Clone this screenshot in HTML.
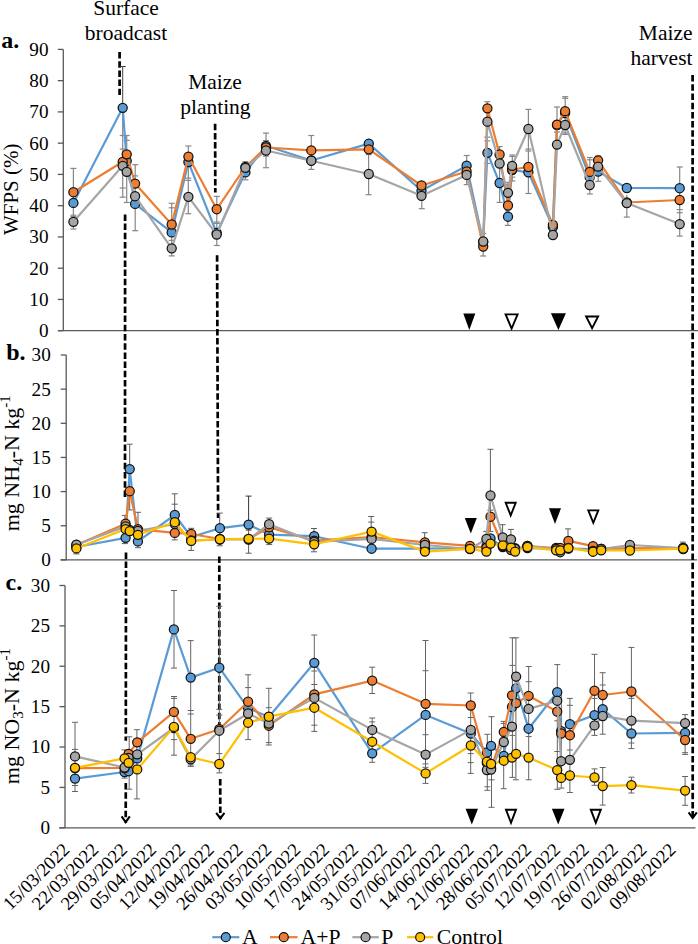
<!DOCTYPE html><html><head><meta charset="utf-8"><style>html,body{margin:0;padding:0;background:#fff;width:698px;height:944px;overflow:hidden}svg{display:block}</style></head><body><svg width="698" height="944" viewBox="0 0 698 944" font-family='"Liberation Serif", serif' fill="#000">
<rect width="698" height="944" fill="#fff"/>
<g font-size="21.5">
<text x="126" y="15.1" text-anchor="middle">Surface</text>
<text x="126" y="40.3" text-anchor="middle">broadcast</text>
<text x="215" y="88.8" text-anchor="middle">Maize</text>
<text x="215.4" y="114.1" text-anchor="middle">planting</text>
<text x="692.5" y="39.6" text-anchor="end">Maize</text>
<text x="692.5" y="64.9" text-anchor="end">harvest</text>
</g>
<g font-size="24" font-weight="bold">
<text x="1.3" y="48.2">a.</text>
<text x="6.2" y="359.8">b.</text>
<text x="5.6" y="589.6">c.</text>
</g>
<line x1="63.3" y1="49.4" x2="63.3" y2="330.7" stroke="#595959" stroke-width="1.3"/><line x1="57.8" y1="49.40" x2="63.3" y2="49.40" stroke="#595959" stroke-width="1.3"/><text x="48.5" y="55.80" text-anchor="end" font-size="19.2">90</text><line x1="57.8" y1="80.66" x2="63.3" y2="80.66" stroke="#595959" stroke-width="1.3"/><text x="48.5" y="87.06" text-anchor="end" font-size="19.2">80</text><line x1="57.8" y1="111.91" x2="63.3" y2="111.91" stroke="#595959" stroke-width="1.3"/><text x="48.5" y="118.31" text-anchor="end" font-size="19.2">70</text><line x1="57.8" y1="143.17" x2="63.3" y2="143.17" stroke="#595959" stroke-width="1.3"/><text x="48.5" y="149.57" text-anchor="end" font-size="19.2">60</text><line x1="57.8" y1="174.42" x2="63.3" y2="174.42" stroke="#595959" stroke-width="1.3"/><text x="48.5" y="180.82" text-anchor="end" font-size="19.2">50</text><line x1="57.8" y1="205.68" x2="63.3" y2="205.68" stroke="#595959" stroke-width="1.3"/><text x="48.5" y="212.08" text-anchor="end" font-size="19.2">40</text><line x1="57.8" y1="236.93" x2="63.3" y2="236.93" stroke="#595959" stroke-width="1.3"/><text x="48.5" y="243.33" text-anchor="end" font-size="19.2">30</text><line x1="57.8" y1="268.19" x2="63.3" y2="268.19" stroke="#595959" stroke-width="1.3"/><text x="48.5" y="274.59" text-anchor="end" font-size="19.2">20</text><line x1="57.8" y1="299.44" x2="63.3" y2="299.44" stroke="#595959" stroke-width="1.3"/><text x="48.5" y="305.84" text-anchor="end" font-size="19.2">10</text><line x1="57.8" y1="330.70" x2="63.3" y2="330.70" stroke="#595959" stroke-width="1.3"/><text x="48.5" y="337.10" text-anchor="end" font-size="19.2">0</text>
<line x1="58" y1="330.7" x2="698" y2="330.7" stroke="#595959" stroke-width="1.3"/>
<line x1="66.2" y1="355.0" x2="66.2" y2="559.9" stroke="#595959" stroke-width="1.3"/><line x1="60.7" y1="355.00" x2="66.2" y2="355.00" stroke="#595959" stroke-width="1.3"/><text x="50.8" y="361.40" text-anchor="end" font-size="19.2">30</text><line x1="60.7" y1="389.15" x2="66.2" y2="389.15" stroke="#595959" stroke-width="1.3"/><text x="50.8" y="395.55" text-anchor="end" font-size="19.2">25</text><line x1="60.7" y1="423.30" x2="66.2" y2="423.30" stroke="#595959" stroke-width="1.3"/><text x="50.8" y="429.70" text-anchor="end" font-size="19.2">20</text><line x1="60.7" y1="457.45" x2="66.2" y2="457.45" stroke="#595959" stroke-width="1.3"/><text x="50.8" y="463.85" text-anchor="end" font-size="19.2">15</text><line x1="60.7" y1="491.60" x2="66.2" y2="491.60" stroke="#595959" stroke-width="1.3"/><text x="50.8" y="498.00" text-anchor="end" font-size="19.2">10</text><line x1="60.7" y1="525.75" x2="66.2" y2="525.75" stroke="#595959" stroke-width="1.3"/><text x="50.8" y="532.15" text-anchor="end" font-size="19.2">5</text><line x1="60.7" y1="559.90" x2="66.2" y2="559.90" stroke="#595959" stroke-width="1.3"/><text x="50.8" y="566.30" text-anchor="end" font-size="19.2">0</text>
<line x1="60.5" y1="559.9" x2="697" y2="559.9" stroke="#595959" stroke-width="1.3"/>
<line x1="65.0" y1="585.5" x2="65.0" y2="827.8" stroke="#595959" stroke-width="1.3"/><line x1="59.5" y1="585.50" x2="65.0" y2="585.50" stroke="#595959" stroke-width="1.3"/><text x="50.0" y="591.90" text-anchor="end" font-size="19.2">30</text><line x1="59.5" y1="625.88" x2="65.0" y2="625.88" stroke="#595959" stroke-width="1.3"/><text x="50.0" y="632.28" text-anchor="end" font-size="19.2">25</text><line x1="59.5" y1="666.27" x2="65.0" y2="666.27" stroke="#595959" stroke-width="1.3"/><text x="50.0" y="672.67" text-anchor="end" font-size="19.2">20</text><line x1="59.5" y1="706.65" x2="65.0" y2="706.65" stroke="#595959" stroke-width="1.3"/><text x="50.0" y="713.05" text-anchor="end" font-size="19.2">15</text><line x1="59.5" y1="747.03" x2="65.0" y2="747.03" stroke="#595959" stroke-width="1.3"/><text x="50.0" y="753.43" text-anchor="end" font-size="19.2">10</text><line x1="59.5" y1="787.42" x2="65.0" y2="787.42" stroke="#595959" stroke-width="1.3"/><text x="50.0" y="793.82" text-anchor="end" font-size="19.2">5</text><line x1="59.5" y1="827.80" x2="65.0" y2="827.80" stroke="#595959" stroke-width="1.3"/><text x="50.0" y="834.20" text-anchor="end" font-size="19.2">0</text>
<line x1="59.2" y1="827.8" x2="695.5" y2="827.8" stroke="#595959" stroke-width="1.3"/>
<g font-size="21">
<text transform="translate(17.7,189.3) rotate(-90)" text-anchor="middle">WFPS (%)</text>
<text transform="translate(18.9,463.2) rotate(-90)" text-anchor="middle" font-size="22">mg NH<tspan font-size="15" dy="4">4</tspan><tspan dy="-4">-N kg</tspan><tspan font-size="15" dy="-8.5">-1</tspan></text>
<text transform="translate(18.9,716.1) rotate(-90)" text-anchor="middle" font-size="22">mg NO<tspan font-size="15" dy="4">3</tspan><tspan dy="-4">-N kg</tspan><tspan font-size="15" dy="-8.5">-1</tspan></text>
</g>
<line x1="119.6" y1="52" x2="119.6" y2="95" stroke="#000" stroke-width="2.7" stroke-dasharray="6.5 2.7"/>
<line x1="125.1" y1="214.4" x2="125.0" y2="499.5" stroke="#000" stroke-width="2.7" stroke-dasharray="6.5 2.7"/>
<line x1="126.0" y1="552.4" x2="125.8" y2="740.8" stroke="#000" stroke-width="2.7" stroke-dasharray="6.5 2.7"/>
<line x1="125.8" y1="783.1" x2="125.7" y2="822.7" stroke="#000" stroke-width="2.7" stroke-dasharray="6.5 2.7"/><polyline points="121.6,816.4000000000001 125.7,822.1 129.8,816.4000000000001" fill="none" stroke="#000" stroke-width="2.1"/>
<line x1="215.1" y1="123.7" x2="215.3" y2="192.4" stroke="#000" stroke-width="2.7" stroke-dasharray="6.5 2.7"/>
<line x1="217.1" y1="255.3" x2="218.1" y2="518.0" stroke="#000" stroke-width="2.7" stroke-dasharray="6.5 2.7"/>
<line x1="219.3" y1="556.4" x2="219.3" y2="725.0" stroke="#000" stroke-width="2.7" stroke-dasharray="6.5 2.7"/>
<line x1="220.2" y1="779.0" x2="220.3" y2="819.1" stroke="#000" stroke-width="2.7" stroke-dasharray="6.5 2.7"/><polyline points="216.2,812.8000000000001 220.3,818.5 224.4,812.8000000000001" fill="none" stroke="#000" stroke-width="2.1"/>
<line x1="692.6" y1="75.1" x2="692.7" y2="818.6" stroke="#000" stroke-width="2.7" stroke-dasharray="6.5 2.7"/><polyline points="688.6,812.3000000000001 692.7,818.0 696.8,812.3000000000001" fill="none" stroke="#000" stroke-width="2.1"/>
<polygon points="463.3,313.5 475.3,313.5 469.3,330.1" fill="#000"/>
<polygon points="505.6,314.4 517.6,314.4 511.6,328.5" fill="none" stroke="#000" stroke-width="1.9" stroke-linejoin="miter"/>
<polygon points="550.9,313.3 565.9,313.3 558.4,330.1" fill="#000"/>
<polygon points="586.1,316.5 598.1,316.5 592.1,328.2" fill="none" stroke="#000" stroke-width="1.9" stroke-linejoin="miter"/>
<polygon points="464.8,518.0 476.8,518.0 470.8,533.6" fill="#000"/>
<polygon points="505.7,502.8 515.7,502.8 510.7,515.4" fill="none" stroke="#000" stroke-width="1.9" stroke-linejoin="miter"/>
<polygon points="549.0,508.3 561.0,508.3 555.0,523.9" fill="#000"/>
<polygon points="588.3,510.4 598.3,510.4 593.3,522.8" fill="none" stroke="#000" stroke-width="1.9" stroke-linejoin="miter"/>
<polygon points="465.6,808.8 478.0,808.8 471.8,824.4" fill="#000"/>
<polygon points="506.0,809.7 516.0,809.7 511.0,822.8" fill="none" stroke="#000" stroke-width="1.9" stroke-linejoin="miter"/>
<polygon points="551.9,808.8 564.5,808.8 558.2,824.4" fill="#000"/>
<polygon points="590.8,809.7 600.8,809.7 595.8,822.8" fill="none" stroke="#000" stroke-width="1.9" stroke-linejoin="miter"/>
<line x1="73.4" y1="168.4" x2="73.4" y2="229.0" stroke="#878787" stroke-width="1.2"/><line x1="70.4" y1="168.4" x2="76.4" y2="168.4" stroke="#878787" stroke-width="1.2"/><line x1="70.4" y1="215.2" x2="76.4" y2="215.2" stroke="#878787" stroke-width="1.2"/><line x1="70.4" y1="216.6" x2="76.4" y2="216.6" stroke="#878787" stroke-width="1.2"/><line x1="70.4" y1="229.0" x2="76.4" y2="229.0" stroke="#878787" stroke-width="1.2"/>
<line x1="122.7" y1="66.5" x2="122.7" y2="107.8" stroke="#404040" stroke-width="1.0"/><line x1="119.7" y1="66.5" x2="125.7" y2="66.5" stroke="#404040" stroke-width="1.0"/>
<line x1="122.7" y1="107.8" x2="122.7" y2="197.2" stroke="#878787" stroke-width="1.2"/><line x1="119.7" y1="135.5" x2="125.7" y2="135.5" stroke="#878787" stroke-width="1.2"/><line x1="119.7" y1="149.0" x2="125.7" y2="149.0" stroke="#878787" stroke-width="1.2"/><line x1="119.7" y1="188.0" x2="125.7" y2="188.0" stroke="#878787" stroke-width="1.2"/><line x1="119.7" y1="197.2" x2="125.7" y2="197.2" stroke="#878787" stroke-width="1.2"/>
<line x1="126.7" y1="135.5" x2="126.7" y2="202.5" stroke="#878787" stroke-width="1.2"/><line x1="123.7" y1="135.5" x2="129.7" y2="135.5" stroke="#878787" stroke-width="1.2"/><line x1="123.7" y1="140.3" x2="129.7" y2="140.3" stroke="#878787" stroke-width="1.2"/><line x1="123.7" y1="202.5" x2="129.7" y2="202.5" stroke="#878787" stroke-width="1.2"/>
<line x1="135.2" y1="164.7" x2="135.2" y2="230.7" stroke="#878787" stroke-width="1.2"/><line x1="132.2" y1="164.7" x2="138.2" y2="164.7" stroke="#878787" stroke-width="1.2"/><line x1="132.2" y1="175.9" x2="138.2" y2="175.9" stroke="#878787" stroke-width="1.2"/><line x1="132.2" y1="230.7" x2="138.2" y2="230.7" stroke="#878787" stroke-width="1.2"/>
<line x1="171.7" y1="203.3" x2="171.7" y2="255.9" stroke="#878787" stroke-width="1.2"/><line x1="168.7" y1="203.3" x2="174.7" y2="203.3" stroke="#878787" stroke-width="1.2"/><line x1="168.7" y1="207.8" x2="174.7" y2="207.8" stroke="#878787" stroke-width="1.2"/><line x1="168.7" y1="240.4" x2="174.7" y2="240.4" stroke="#878787" stroke-width="1.2"/><line x1="168.7" y1="255.9" x2="174.7" y2="255.9" stroke="#878787" stroke-width="1.2"/>
<line x1="188.3" y1="146.0" x2="188.3" y2="213.7" stroke="#878787" stroke-width="1.2"/><line x1="185.3" y1="146.0" x2="191.3" y2="146.0" stroke="#878787" stroke-width="1.2"/><line x1="185.3" y1="178.1" x2="191.3" y2="178.1" stroke="#878787" stroke-width="1.2"/><line x1="185.3" y1="180.4" x2="191.3" y2="180.4" stroke="#878787" stroke-width="1.2"/><line x1="185.3" y1="213.7" x2="191.3" y2="213.7" stroke="#878787" stroke-width="1.2"/>
<line x1="216.8" y1="196.4" x2="216.8" y2="245.5" stroke="#878787" stroke-width="1.2"/><line x1="213.8" y1="196.4" x2="219.8" y2="196.4" stroke="#878787" stroke-width="1.2"/><line x1="213.8" y1="222.0" x2="219.8" y2="222.0" stroke="#878787" stroke-width="1.2"/><line x1="213.8" y1="223.4" x2="219.8" y2="223.4" stroke="#878787" stroke-width="1.2"/><line x1="213.8" y1="245.5" x2="219.8" y2="245.5" stroke="#878787" stroke-width="1.2"/>
<line x1="245.4" y1="161.7" x2="245.4" y2="179.8" stroke="#878787" stroke-width="1.2"/><line x1="242.4" y1="161.7" x2="248.4" y2="161.7" stroke="#878787" stroke-width="1.2"/><line x1="242.4" y1="179.8" x2="248.4" y2="179.8" stroke="#878787" stroke-width="1.2"/>
<line x1="266.0" y1="133.1" x2="266.0" y2="167.7" stroke="#878787" stroke-width="1.2"/><line x1="263.0" y1="133.1" x2="269.0" y2="133.1" stroke="#878787" stroke-width="1.2"/><line x1="263.0" y1="140.6" x2="269.0" y2="140.6" stroke="#878787" stroke-width="1.2"/><line x1="263.0" y1="156.1" x2="269.0" y2="156.1" stroke="#878787" stroke-width="1.2"/><line x1="263.0" y1="167.7" x2="269.0" y2="167.7" stroke="#878787" stroke-width="1.2"/>
<line x1="311.3" y1="135.5" x2="311.3" y2="169.4" stroke="#878787" stroke-width="1.2"/><line x1="308.3" y1="135.5" x2="314.3" y2="135.5" stroke="#878787" stroke-width="1.2"/><line x1="308.3" y1="169.4" x2="314.3" y2="169.4" stroke="#878787" stroke-width="1.2"/>
<line x1="368.6" y1="154.6" x2="368.6" y2="194.7" stroke="#878787" stroke-width="1.2"/><line x1="365.6" y1="154.6" x2="371.6" y2="154.6" stroke="#878787" stroke-width="1.2"/><line x1="365.6" y1="194.7" x2="371.6" y2="194.7" stroke="#878787" stroke-width="1.2"/>
<line x1="421.8" y1="181.0" x2="421.8" y2="208.7" stroke="#878787" stroke-width="1.2"/><line x1="418.8" y1="208.7" x2="424.8" y2="208.7" stroke="#878787" stroke-width="1.2"/>
<line x1="466.7" y1="155.5" x2="466.7" y2="184.6" stroke="#878787" stroke-width="1.2"/><line x1="463.7" y1="155.5" x2="469.7" y2="155.5" stroke="#878787" stroke-width="1.2"/><line x1="463.7" y1="184.6" x2="469.7" y2="184.6" stroke="#878787" stroke-width="1.2"/>
<line x1="483.2" y1="233.4" x2="483.2" y2="256.0" stroke="#878787" stroke-width="1.2"/><line x1="480.2" y1="233.4" x2="486.2" y2="233.4" stroke="#878787" stroke-width="1.2"/><line x1="480.2" y1="256.0" x2="486.2" y2="256.0" stroke="#878787" stroke-width="1.2"/>
<line x1="487.3" y1="101.7" x2="487.3" y2="163.4" stroke="#878787" stroke-width="1.2"/><line x1="484.3" y1="101.7" x2="490.3" y2="101.7" stroke="#878787" stroke-width="1.2"/><line x1="484.3" y1="137.2" x2="490.3" y2="137.2" stroke="#878787" stroke-width="1.2"/><line x1="484.3" y1="140.9" x2="490.3" y2="140.9" stroke="#878787" stroke-width="1.2"/><line x1="484.3" y1="163.4" x2="490.3" y2="163.4" stroke="#878787" stroke-width="1.2"/>
<line x1="499.6" y1="146.6" x2="499.6" y2="202.4" stroke="#878787" stroke-width="1.2"/><line x1="496.6" y1="146.6" x2="502.6" y2="146.6" stroke="#878787" stroke-width="1.2"/><line x1="496.6" y1="202.4" x2="502.6" y2="202.4" stroke="#878787" stroke-width="1.2"/>
<line x1="507.8" y1="182.4" x2="507.8" y2="226.0" stroke="#878787" stroke-width="1.2"/><line x1="504.8" y1="182.4" x2="510.8" y2="182.4" stroke="#878787" stroke-width="1.2"/><line x1="504.8" y1="184.6" x2="510.8" y2="184.6" stroke="#878787" stroke-width="1.2"/><line x1="504.8" y1="225.4" x2="510.8" y2="225.4" stroke="#878787" stroke-width="1.2"/>
<line x1="512.3" y1="155.0" x2="512.3" y2="181.0" stroke="#878787" stroke-width="1.2"/><line x1="509.3" y1="155.0" x2="515.3" y2="155.0" stroke="#878787" stroke-width="1.2"/><line x1="509.3" y1="156.5" x2="515.3" y2="156.5" stroke="#878787" stroke-width="1.2"/><line x1="509.3" y1="177.2" x2="515.3" y2="177.2" stroke="#878787" stroke-width="1.2"/><line x1="509.3" y1="181.0" x2="515.3" y2="181.0" stroke="#878787" stroke-width="1.2"/>
<line x1="528.4" y1="109.4" x2="528.4" y2="193.5" stroke="#878787" stroke-width="1.2"/><line x1="525.4" y1="109.4" x2="531.4" y2="109.4" stroke="#878787" stroke-width="1.2"/><line x1="525.4" y1="149.1" x2="531.4" y2="149.1" stroke="#878787" stroke-width="1.2"/><line x1="525.4" y1="151.0" x2="531.4" y2="151.0" stroke="#878787" stroke-width="1.2"/><line x1="525.4" y1="193.5" x2="531.4" y2="193.5" stroke="#878787" stroke-width="1.2"/>
<line x1="557.0" y1="107.0" x2="557.0" y2="132.0" stroke="#878787" stroke-width="1.2"/><line x1="554.0" y1="107.0" x2="560.0" y2="107.0" stroke="#878787" stroke-width="1.2"/><line x1="554.0" y1="132.0" x2="560.0" y2="132.0" stroke="#878787" stroke-width="1.2"/>
<line x1="565.2" y1="96.7" x2="565.2" y2="134.4" stroke="#878787" stroke-width="1.2"/><line x1="562.2" y1="96.7" x2="568.2" y2="96.7" stroke="#878787" stroke-width="1.2"/><line x1="562.2" y1="98.3" x2="568.2" y2="98.3" stroke="#878787" stroke-width="1.2"/><line x1="562.2" y1="132.9" x2="568.2" y2="132.9" stroke="#878787" stroke-width="1.2"/><line x1="562.2" y1="134.4" x2="568.2" y2="134.4" stroke="#878787" stroke-width="1.2"/>
<line x1="589.8" y1="157.5" x2="589.8" y2="194.0" stroke="#878787" stroke-width="1.2"/><line x1="586.8" y1="157.5" x2="592.8" y2="157.5" stroke="#878787" stroke-width="1.2"/><line x1="586.8" y1="159.8" x2="592.8" y2="159.8" stroke="#878787" stroke-width="1.2"/><line x1="586.8" y1="194.0" x2="592.8" y2="194.0" stroke="#878787" stroke-width="1.2"/>
<line x1="598.2" y1="155.9" x2="598.2" y2="181.3" stroke="#878787" stroke-width="1.2"/><line x1="595.2" y1="155.9" x2="601.2" y2="155.9" stroke="#878787" stroke-width="1.2"/><line x1="595.2" y1="181.3" x2="601.2" y2="181.3" stroke="#878787" stroke-width="1.2"/>
<line x1="626.8" y1="195.0" x2="626.8" y2="217.1" stroke="#878787" stroke-width="1.2"/><line x1="623.8" y1="217.1" x2="629.8" y2="217.1" stroke="#878787" stroke-width="1.2"/>
<line x1="679.7" y1="167.0" x2="679.7" y2="236.1" stroke="#878787" stroke-width="1.2"/><line x1="676.7" y1="167.0" x2="682.7" y2="167.0" stroke="#878787" stroke-width="1.2"/><line x1="676.7" y1="209.6" x2="682.7" y2="209.6" stroke="#878787" stroke-width="1.2"/><line x1="676.7" y1="212.7" x2="682.7" y2="212.7" stroke="#878787" stroke-width="1.2"/><line x1="676.7" y1="236.1" x2="682.7" y2="236.1" stroke="#878787" stroke-width="1.2"/>
<line x1="76.4" y1="546.0" x2="76.4" y2="553.9" stroke="#5e5e5e" stroke-width="1"/><line x1="73.4" y1="553.9" x2="79.4" y2="553.9" stroke="#5e5e5e" stroke-width="1"/>
<line x1="124.9" y1="515.4" x2="124.9" y2="543.6" stroke="#5e5e5e" stroke-width="1"/><line x1="121.9" y1="515.4" x2="127.9" y2="515.4" stroke="#5e5e5e" stroke-width="1"/><line x1="121.9" y1="543.6" x2="127.9" y2="543.6" stroke="#5e5e5e" stroke-width="1"/>
<line x1="129.7" y1="444.2" x2="129.7" y2="509.9" stroke="#5e5e5e" stroke-width="1"/><line x1="126.7" y1="444.2" x2="132.7" y2="444.2" stroke="#5e5e5e" stroke-width="1"/><line x1="126.7" y1="509.9" x2="132.7" y2="509.9" stroke="#5e5e5e" stroke-width="1"/>
<line x1="138.0" y1="512.3" x2="138.0" y2="547.7" stroke="#5e5e5e" stroke-width="1"/><line x1="135.0" y1="512.3" x2="141.0" y2="512.3" stroke="#5e5e5e" stroke-width="1"/><line x1="135.0" y1="547.7" x2="141.0" y2="547.7" stroke="#5e5e5e" stroke-width="1"/>
<line x1="174.7" y1="493.8" x2="174.7" y2="539.9" stroke="#5e5e5e" stroke-width="1"/><line x1="171.7" y1="493.8" x2="177.7" y2="493.8" stroke="#5e5e5e" stroke-width="1"/><line x1="171.7" y1="504.2" x2="177.7" y2="504.2" stroke="#5e5e5e" stroke-width="1"/><line x1="171.7" y1="539.9" x2="177.7" y2="539.9" stroke="#5e5e5e" stroke-width="1"/>
<line x1="191.2" y1="528.3" x2="191.2" y2="550.4" stroke="#5e5e5e" stroke-width="1"/><line x1="188.2" y1="528.3" x2="194.2" y2="528.3" stroke="#5e5e5e" stroke-width="1"/><line x1="188.2" y1="550.4" x2="194.2" y2="550.4" stroke="#5e5e5e" stroke-width="1"/>
<line x1="219.7" y1="513.1" x2="219.7" y2="545.8" stroke="#5e5e5e" stroke-width="1"/><line x1="216.7" y1="513.1" x2="222.7" y2="513.1" stroke="#5e5e5e" stroke-width="1"/><line x1="216.7" y1="545.8" x2="222.7" y2="545.8" stroke="#5e5e5e" stroke-width="1"/>
<line x1="248.6" y1="496.1" x2="248.6" y2="524.6" stroke="#353535" stroke-width="1.0"/><line x1="245.6" y1="496.1" x2="251.6" y2="496.1" stroke="#353535" stroke-width="1.0"/>
<line x1="248.6" y1="524.6" x2="248.6" y2="553.2" stroke="#5e5e5e" stroke-width="1"/><line x1="245.6" y1="530.2" x2="251.6" y2="530.2" stroke="#5e5e5e" stroke-width="1"/><line x1="245.6" y1="553.2" x2="251.6" y2="553.2" stroke="#5e5e5e" stroke-width="1"/>
<line x1="269.2" y1="518.1" x2="269.2" y2="544.6" stroke="#5e5e5e" stroke-width="1"/><line x1="266.2" y1="518.1" x2="272.2" y2="518.1" stroke="#5e5e5e" stroke-width="1"/><line x1="266.2" y1="544.6" x2="272.2" y2="544.6" stroke="#5e5e5e" stroke-width="1"/>
<line x1="314.0" y1="528.5" x2="314.0" y2="551.8" stroke="#5e5e5e" stroke-width="1"/><line x1="311.0" y1="528.5" x2="317.0" y2="528.5" stroke="#5e5e5e" stroke-width="1"/><line x1="311.0" y1="551.8" x2="317.0" y2="551.8" stroke="#5e5e5e" stroke-width="1"/>
<line x1="371.2" y1="516.5" x2="371.2" y2="540.0" stroke="#5e5e5e" stroke-width="1"/><line x1="368.2" y1="516.5" x2="374.2" y2="516.5" stroke="#5e5e5e" stroke-width="1"/><line x1="368.2" y1="522.1" x2="374.2" y2="522.1" stroke="#5e5e5e" stroke-width="1"/>
<line x1="424.7" y1="532.7" x2="424.7" y2="545.0" stroke="#5e5e5e" stroke-width="1"/><line x1="421.7" y1="532.7" x2="427.7" y2="532.7" stroke="#5e5e5e" stroke-width="1"/>
<line x1="486.2" y1="531.4" x2="486.2" y2="552.0" stroke="#5e5e5e" stroke-width="1"/><line x1="483.2" y1="531.4" x2="489.2" y2="531.4" stroke="#5e5e5e" stroke-width="1"/>
<line x1="490.4" y1="449.3" x2="490.4" y2="531.4" stroke="#5e5e5e" stroke-width="1"/><line x1="487.4" y1="449.3" x2="493.4" y2="449.3" stroke="#5e5e5e" stroke-width="1"/><line x1="487.4" y1="510.2" x2="493.4" y2="510.2" stroke="#5e5e5e" stroke-width="1"/><line x1="487.4" y1="531.4" x2="493.4" y2="531.4" stroke="#5e5e5e" stroke-width="1"/>
<line x1="502.6" y1="524.7" x2="502.6" y2="545.0" stroke="#5e5e5e" stroke-width="1"/><line x1="499.6" y1="524.7" x2="505.6" y2="524.7" stroke="#5e5e5e" stroke-width="1"/>
<line x1="510.9" y1="529.4" x2="510.9" y2="548.0" stroke="#5e5e5e" stroke-width="1"/><line x1="507.9" y1="529.4" x2="513.9" y2="529.4" stroke="#5e5e5e" stroke-width="1"/>
<line x1="568.0" y1="528.9" x2="568.0" y2="545.0" stroke="#5e5e5e" stroke-width="1"/><line x1="565.0" y1="528.9" x2="571.0" y2="528.9" stroke="#5e5e5e" stroke-width="1"/>
<line x1="682.8" y1="542.1" x2="682.8" y2="552.0" stroke="#5e5e5e" stroke-width="1"/><line x1="679.8" y1="542.1" x2="685.8" y2="542.1" stroke="#5e5e5e" stroke-width="1"/>
<line x1="75.0" y1="722.3" x2="75.0" y2="791.5" stroke="#646464" stroke-width="1"/><line x1="72.0" y1="722.3" x2="78.0" y2="722.3" stroke="#646464" stroke-width="1"/><line x1="72.0" y1="749.4" x2="78.0" y2="749.4" stroke="#646464" stroke-width="1"/><line x1="72.0" y1="785.5" x2="78.0" y2="785.5" stroke="#646464" stroke-width="1"/><line x1="72.0" y1="791.5" x2="78.0" y2="791.5" stroke="#646464" stroke-width="1"/>
<line x1="124.6" y1="749.9" x2="124.6" y2="778.1" stroke="#646464" stroke-width="1"/><line x1="121.6" y1="749.9" x2="127.6" y2="749.9" stroke="#646464" stroke-width="1"/><line x1="121.6" y1="778.1" x2="127.6" y2="778.1" stroke="#646464" stroke-width="1"/>
<line x1="129.2" y1="736.8" x2="129.2" y2="789.2" stroke="#646464" stroke-width="1"/><line x1="126.2" y1="736.8" x2="132.2" y2="736.8" stroke="#646464" stroke-width="1"/><line x1="126.2" y1="789.2" x2="132.2" y2="789.2" stroke="#646464" stroke-width="1"/>
<line x1="136.9" y1="729.7" x2="136.9" y2="798.9" stroke="#646464" stroke-width="1"/><line x1="133.9" y1="729.7" x2="139.9" y2="729.7" stroke="#646464" stroke-width="1"/><line x1="133.9" y1="798.9" x2="139.9" y2="798.9" stroke="#646464" stroke-width="1"/>
<line x1="174.0" y1="590.5" x2="174.0" y2="668.1" stroke="#646464" stroke-width="1"/><line x1="171.0" y1="590.5" x2="177.0" y2="590.5" stroke="#646464" stroke-width="1"/><line x1="171.0" y1="668.1" x2="177.0" y2="668.1" stroke="#646464" stroke-width="1"/>
<line x1="174.0" y1="696.5" x2="174.0" y2="755.2" stroke="#646464" stroke-width="1"/><line x1="171.0" y1="696.5" x2="177.0" y2="696.5" stroke="#646464" stroke-width="1"/><line x1="171.0" y1="698.4" x2="177.0" y2="698.4" stroke="#646464" stroke-width="1"/><line x1="171.0" y1="739.6" x2="177.0" y2="739.6" stroke="#646464" stroke-width="1"/><line x1="171.0" y1="755.2" x2="177.0" y2="755.2" stroke="#646464" stroke-width="1"/>
<line x1="190.7" y1="640.6" x2="190.7" y2="766.4" stroke="#646464" stroke-width="1"/><line x1="187.7" y1="640.6" x2="193.7" y2="640.6" stroke="#646464" stroke-width="1"/><line x1="187.7" y1="710.5" x2="193.7" y2="710.5" stroke="#646464" stroke-width="1"/><line x1="187.7" y1="714.0" x2="193.7" y2="714.0" stroke="#646464" stroke-width="1"/><line x1="187.7" y1="765.0" x2="193.7" y2="765.0" stroke="#646464" stroke-width="1"/><line x1="187.7" y1="766.4" x2="193.7" y2="766.4" stroke="#646464" stroke-width="1"/>
<line x1="219.3" y1="606.3" x2="219.3" y2="772.9" stroke="#646464" stroke-width="1"/><line x1="216.3" y1="606.3" x2="222.3" y2="606.3" stroke="#646464" stroke-width="1"/><line x1="216.3" y1="709.3" x2="222.3" y2="709.3" stroke="#646464" stroke-width="1"/><line x1="216.3" y1="715.1" x2="222.3" y2="715.1" stroke="#646464" stroke-width="1"/><line x1="216.3" y1="753.6" x2="222.3" y2="753.6" stroke="#646464" stroke-width="1"/><line x1="216.3" y1="772.9" x2="222.3" y2="772.9" stroke="#646464" stroke-width="1"/>
<line x1="248.1" y1="674.8" x2="248.1" y2="739.6" stroke="#646464" stroke-width="1"/><line x1="245.1" y1="674.8" x2="251.1" y2="674.8" stroke="#646464" stroke-width="1"/><line x1="245.1" y1="687.6" x2="251.1" y2="687.6" stroke="#646464" stroke-width="1"/><line x1="245.1" y1="739.6" x2="251.1" y2="739.6" stroke="#646464" stroke-width="1"/>
<line x1="268.8" y1="688.3" x2="268.8" y2="745.0" stroke="#646464" stroke-width="1"/><line x1="265.8" y1="688.3" x2="271.8" y2="688.3" stroke="#646464" stroke-width="1"/><line x1="265.8" y1="707.7" x2="271.8" y2="707.7" stroke="#646464" stroke-width="1"/><line x1="265.8" y1="742.6" x2="271.8" y2="742.6" stroke="#646464" stroke-width="1"/><line x1="265.8" y1="745.0" x2="271.8" y2="745.0" stroke="#646464" stroke-width="1"/>
<line x1="314.3" y1="635.0" x2="314.3" y2="731.4" stroke="#646464" stroke-width="1"/><line x1="311.3" y1="635.0" x2="317.3" y2="635.0" stroke="#646464" stroke-width="1"/><line x1="311.3" y1="671.0" x2="317.3" y2="671.0" stroke="#646464" stroke-width="1"/><line x1="311.3" y1="684.5" x2="317.3" y2="684.5" stroke="#646464" stroke-width="1"/><line x1="311.3" y1="725.2" x2="317.3" y2="725.2" stroke="#646464" stroke-width="1"/><line x1="311.3" y1="731.4" x2="317.3" y2="731.4" stroke="#646464" stroke-width="1"/>
<line x1="372.2" y1="667.2" x2="372.2" y2="693.5" stroke="#646464" stroke-width="1"/><line x1="369.2" y1="667.2" x2="375.2" y2="667.2" stroke="#646464" stroke-width="1"/><line x1="369.2" y1="693.5" x2="375.2" y2="693.5" stroke="#646464" stroke-width="1"/>
<line x1="372.2" y1="718.0" x2="372.2" y2="762.3" stroke="#646464" stroke-width="1"/><line x1="369.2" y1="718.0" x2="375.2" y2="718.0" stroke="#646464" stroke-width="1"/><line x1="369.2" y1="721.9" x2="375.2" y2="721.9" stroke="#646464" stroke-width="1"/><line x1="369.2" y1="762.3" x2="375.2" y2="762.3" stroke="#646464" stroke-width="1"/>
<line x1="425.5" y1="640.5" x2="425.5" y2="783.4" stroke="#646464" stroke-width="1"/><line x1="422.5" y1="640.5" x2="428.5" y2="640.5" stroke="#646464" stroke-width="1"/><line x1="422.5" y1="670.7" x2="428.5" y2="670.7" stroke="#646464" stroke-width="1"/><line x1="422.5" y1="734.7" x2="428.5" y2="734.7" stroke="#646464" stroke-width="1"/><line x1="422.5" y1="763.9" x2="428.5" y2="763.9" stroke="#646464" stroke-width="1"/><line x1="422.5" y1="767.3" x2="428.5" y2="767.3" stroke="#646464" stroke-width="1"/><line x1="422.5" y1="783.4" x2="428.5" y2="783.4" stroke="#646464" stroke-width="1"/>
<line x1="470.7" y1="693.0" x2="470.7" y2="773.4" stroke="#646464" stroke-width="1"/><line x1="467.7" y1="693.0" x2="473.7" y2="693.0" stroke="#646464" stroke-width="1"/><line x1="467.7" y1="717.5" x2="473.7" y2="717.5" stroke="#646464" stroke-width="1"/><line x1="467.7" y1="753.6" x2="473.7" y2="753.6" stroke="#646464" stroke-width="1"/><line x1="467.7" y1="762.6" x2="473.7" y2="762.6" stroke="#646464" stroke-width="1"/><line x1="467.7" y1="773.4" x2="473.7" y2="773.4" stroke="#646464" stroke-width="1"/>
<line x1="487.3" y1="734.3" x2="487.3" y2="790.3" stroke="#646464" stroke-width="1"/><line x1="484.3" y1="734.3" x2="490.3" y2="734.3" stroke="#646464" stroke-width="1"/><line x1="484.3" y1="786.8" x2="490.3" y2="786.8" stroke="#646464" stroke-width="1"/><line x1="484.3" y1="790.3" x2="490.3" y2="790.3" stroke="#646464" stroke-width="1"/>
<line x1="491.5" y1="716.7" x2="491.5" y2="807.3" stroke="#646464" stroke-width="1"/><line x1="488.5" y1="716.7" x2="494.5" y2="716.7" stroke="#646464" stroke-width="1"/><line x1="488.5" y1="779.8" x2="494.5" y2="779.8" stroke="#646464" stroke-width="1"/><line x1="488.5" y1="807.3" x2="494.5" y2="807.3" stroke="#646464" stroke-width="1"/>
<line x1="503.7" y1="721.4" x2="503.7" y2="788.7" stroke="#646464" stroke-width="1"/><line x1="500.7" y1="721.4" x2="506.7" y2="721.4" stroke="#646464" stroke-width="1"/><line x1="500.7" y1="723.4" x2="506.7" y2="723.4" stroke="#646464" stroke-width="1"/><line x1="500.7" y1="788.7" x2="506.7" y2="788.7" stroke="#646464" stroke-width="1"/>
<line x1="512.4" y1="637.8" x2="512.4" y2="777.4" stroke="#646464" stroke-width="1"/><line x1="509.4" y1="637.8" x2="515.4" y2="637.8" stroke="#646464" stroke-width="1"/><line x1="509.4" y1="665.4" x2="515.4" y2="665.4" stroke="#646464" stroke-width="1"/><line x1="509.4" y1="701.6" x2="515.4" y2="701.6" stroke="#646464" stroke-width="1"/><line x1="509.4" y1="735.4" x2="515.4" y2="735.4" stroke="#646464" stroke-width="1"/><line x1="509.4" y1="777.4" x2="515.4" y2="777.4" stroke="#646464" stroke-width="1"/>
<line x1="515.9" y1="637.8" x2="515.9" y2="779.8" stroke="#646464" stroke-width="1"/><line x1="512.9" y1="637.8" x2="518.9" y2="637.8" stroke="#646464" stroke-width="1"/><line x1="512.9" y1="672.4" x2="518.9" y2="672.4" stroke="#646464" stroke-width="1"/><line x1="512.9" y1="779.8" x2="518.9" y2="779.8" stroke="#646464" stroke-width="1"/>
<line x1="528.7" y1="666.5" x2="528.7" y2="779.8" stroke="#646464" stroke-width="1"/><line x1="525.7" y1="666.5" x2="531.7" y2="666.5" stroke="#646464" stroke-width="1"/><line x1="525.7" y1="681.7" x2="531.7" y2="681.7" stroke="#646464" stroke-width="1"/><line x1="525.7" y1="736.6" x2="531.7" y2="736.6" stroke="#646464" stroke-width="1"/><line x1="525.7" y1="779.8" x2="531.7" y2="779.8" stroke="#646464" stroke-width="1"/>
<line x1="557.3" y1="664.6" x2="557.3" y2="789.3" stroke="#646464" stroke-width="1"/><line x1="554.3" y1="664.6" x2="560.3" y2="664.6" stroke="#646464" stroke-width="1"/><line x1="554.3" y1="720.8" x2="560.3" y2="720.8" stroke="#646464" stroke-width="1"/><line x1="554.3" y1="751.5" x2="560.3" y2="751.5" stroke="#646464" stroke-width="1"/><line x1="554.3" y1="789.3" x2="560.3" y2="789.3" stroke="#646464" stroke-width="1"/>
<line x1="561.3" y1="691.2" x2="561.3" y2="788.1" stroke="#646464" stroke-width="1"/><line x1="558.3" y1="788.1" x2="564.3" y2="788.1" stroke="#646464" stroke-width="1"/>
<line x1="569.9" y1="698.4" x2="569.9" y2="792.5" stroke="#646464" stroke-width="1"/><line x1="566.9" y1="698.4" x2="572.9" y2="698.4" stroke="#646464" stroke-width="1"/><line x1="566.9" y1="705.3" x2="572.9" y2="705.3" stroke="#646464" stroke-width="1"/><line x1="566.9" y1="750.0" x2="572.9" y2="750.0" stroke="#646464" stroke-width="1"/><line x1="566.9" y1="792.5" x2="572.9" y2="792.5" stroke="#646464" stroke-width="1"/>
<line x1="594.5" y1="654.3" x2="594.5" y2="735.4" stroke="#646464" stroke-width="1"/><line x1="591.5" y1="654.3" x2="597.5" y2="654.3" stroke="#646464" stroke-width="1"/><line x1="591.5" y1="698.4" x2="597.5" y2="698.4" stroke="#646464" stroke-width="1"/><line x1="591.5" y1="735.4" x2="597.5" y2="735.4" stroke="#646464" stroke-width="1"/>
<line x1="594.5" y1="768.9" x2="594.5" y2="785.3" stroke="#646464" stroke-width="1"/><line x1="591.5" y1="768.9" x2="597.5" y2="768.9" stroke="#646464" stroke-width="1"/><line x1="591.5" y1="785.3" x2="597.5" y2="785.3" stroke="#646464" stroke-width="1"/>
<line x1="602.7" y1="672.7" x2="602.7" y2="734.2" stroke="#646464" stroke-width="1"/><line x1="599.7" y1="672.7" x2="605.7" y2="672.7" stroke="#646464" stroke-width="1"/><line x1="599.7" y1="685.0" x2="605.7" y2="685.0" stroke="#646464" stroke-width="1"/><line x1="599.7" y1="734.2" x2="605.7" y2="734.2" stroke="#646464" stroke-width="1"/>
<line x1="602.7" y1="767.5" x2="602.7" y2="805.1" stroke="#646464" stroke-width="1"/><line x1="599.7" y1="767.5" x2="605.7" y2="767.5" stroke="#646464" stroke-width="1"/><line x1="599.7" y1="805.1" x2="605.7" y2="805.1" stroke="#646464" stroke-width="1"/>
<line x1="631.4" y1="647.4" x2="631.4" y2="748.6" stroke="#646464" stroke-width="1"/><line x1="628.4" y1="647.4" x2="634.4" y2="647.4" stroke="#646464" stroke-width="1"/><line x1="628.4" y1="698.4" x2="634.4" y2="698.4" stroke="#646464" stroke-width="1"/><line x1="628.4" y1="743.0" x2="634.4" y2="743.0" stroke="#646464" stroke-width="1"/><line x1="628.4" y1="748.6" x2="634.4" y2="748.6" stroke="#646464" stroke-width="1"/>
<line x1="631.4" y1="777.2" x2="631.4" y2="793.0" stroke="#646464" stroke-width="1"/><line x1="628.4" y1="777.2" x2="634.4" y2="777.2" stroke="#646464" stroke-width="1"/><line x1="628.4" y1="793.0" x2="634.4" y2="793.0" stroke="#646464" stroke-width="1"/>
<line x1="685.1" y1="714.6" x2="685.1" y2="754.4" stroke="#646464" stroke-width="1"/><line x1="682.1" y1="714.6" x2="688.1" y2="714.6" stroke="#646464" stroke-width="1"/><line x1="682.1" y1="752.7" x2="688.1" y2="752.7" stroke="#646464" stroke-width="1"/><line x1="682.1" y1="754.4" x2="688.1" y2="754.4" stroke="#646464" stroke-width="1"/>
<line x1="685.1" y1="776.5" x2="685.1" y2="805.3" stroke="#646464" stroke-width="1"/><line x1="682.1" y1="776.5" x2="688.1" y2="776.5" stroke="#646464" stroke-width="1"/><line x1="682.1" y1="805.3" x2="688.1" y2="805.3" stroke="#646464" stroke-width="1"/>
<polyline points="73.4,202.9 122.7,107.8 126.7,161.0 135.1,203.9 171.7,232.4 188.4,162.1 216.7,233.0 245.4,172.4 266.0,145.8 311.3,160.5 368.8,143.6 421.5,190.8 466.6,165.7 483.2,242.0 487.4,152.8 499.6,183.0 508.0,216.7 512.1,170.0 528.4,172.3 552.9,227.0 557.0,125.0 565.1,113.0 589.7,177.2 598.1,171.6 626.8,188.0 679.7,188.2" fill="none" stroke="#5B9BD5" stroke-width="2.2" stroke-linejoin="round"/><circle cx="73.4" cy="202.9" r="4.55" fill="#5B9BD5" stroke="#111" stroke-width="1.25"/><circle cx="122.7" cy="107.8" r="4.55" fill="#5B9BD5" stroke="#111" stroke-width="1.25"/><circle cx="126.7" cy="161.0" r="4.55" fill="#5B9BD5" stroke="#111" stroke-width="1.25"/><circle cx="135.1" cy="203.9" r="4.55" fill="#5B9BD5" stroke="#111" stroke-width="1.25"/><circle cx="171.7" cy="232.4" r="4.55" fill="#5B9BD5" stroke="#111" stroke-width="1.25"/><circle cx="188.4" cy="162.1" r="4.55" fill="#5B9BD5" stroke="#111" stroke-width="1.25"/><circle cx="216.7" cy="233.0" r="4.55" fill="#5B9BD5" stroke="#111" stroke-width="1.25"/><circle cx="245.4" cy="172.4" r="4.55" fill="#5B9BD5" stroke="#111" stroke-width="1.25"/><circle cx="266.0" cy="145.8" r="4.55" fill="#5B9BD5" stroke="#111" stroke-width="1.25"/><circle cx="311.3" cy="160.5" r="4.55" fill="#5B9BD5" stroke="#111" stroke-width="1.25"/><circle cx="368.8" cy="143.6" r="4.55" fill="#5B9BD5" stroke="#111" stroke-width="1.25"/><circle cx="421.5" cy="190.8" r="4.55" fill="#5B9BD5" stroke="#111" stroke-width="1.25"/><circle cx="466.6" cy="165.7" r="4.55" fill="#5B9BD5" stroke="#111" stroke-width="1.25"/><circle cx="483.2" cy="242.0" r="4.55" fill="#5B9BD5" stroke="#111" stroke-width="1.25"/><circle cx="487.4" cy="152.8" r="4.55" fill="#5B9BD5" stroke="#111" stroke-width="1.25"/><circle cx="499.6" cy="183.0" r="4.55" fill="#5B9BD5" stroke="#111" stroke-width="1.25"/><circle cx="508.0" cy="216.7" r="4.55" fill="#5B9BD5" stroke="#111" stroke-width="1.25"/><circle cx="512.1" cy="170.0" r="4.55" fill="#5B9BD5" stroke="#111" stroke-width="1.25"/><circle cx="528.4" cy="172.3" r="4.55" fill="#5B9BD5" stroke="#111" stroke-width="1.25"/><circle cx="552.9" cy="227.0" r="4.55" fill="#5B9BD5" stroke="#111" stroke-width="1.25"/><circle cx="557.0" cy="125.0" r="4.55" fill="#5B9BD5" stroke="#111" stroke-width="1.25"/><circle cx="565.1" cy="113.0" r="4.55" fill="#5B9BD5" stroke="#111" stroke-width="1.25"/><circle cx="589.7" cy="177.2" r="4.55" fill="#5B9BD5" stroke="#111" stroke-width="1.25"/><circle cx="598.1" cy="171.6" r="4.55" fill="#5B9BD5" stroke="#111" stroke-width="1.25"/><circle cx="626.8" cy="188.0" r="4.55" fill="#5B9BD5" stroke="#111" stroke-width="1.25"/><circle cx="679.7" cy="188.2" r="4.55" fill="#5B9BD5" stroke="#111" stroke-width="1.25"/>
<polyline points="73.4,192.2 122.7,161.8 126.7,154.3 135.1,183.6 171.7,224.5 188.4,156.6 216.7,209.2 245.4,167.0 266.0,147.5 311.3,150.4 368.8,149.3 421.5,185.5 466.6,171.5 483.2,246.5 487.4,108.3 499.6,154.5 508.0,205.5 512.1,169.5 528.4,167.0 552.9,224.9 557.0,124.6 565.1,111.2 589.7,171.9 598.1,160.3 626.8,202.5 679.7,200.0" fill="none" stroke="#ED7D31" stroke-width="2.2" stroke-linejoin="round"/><circle cx="73.4" cy="192.2" r="4.55" fill="#ED7D31" stroke="#111" stroke-width="1.25"/><circle cx="122.7" cy="161.8" r="4.55" fill="#ED7D31" stroke="#111" stroke-width="1.25"/><circle cx="126.7" cy="154.3" r="4.55" fill="#ED7D31" stroke="#111" stroke-width="1.25"/><circle cx="135.1" cy="183.6" r="4.55" fill="#ED7D31" stroke="#111" stroke-width="1.25"/><circle cx="171.7" cy="224.5" r="4.55" fill="#ED7D31" stroke="#111" stroke-width="1.25"/><circle cx="188.4" cy="156.6" r="4.55" fill="#ED7D31" stroke="#111" stroke-width="1.25"/><circle cx="216.7" cy="209.2" r="4.55" fill="#ED7D31" stroke="#111" stroke-width="1.25"/><circle cx="245.4" cy="167.0" r="4.55" fill="#ED7D31" stroke="#111" stroke-width="1.25"/><circle cx="266.0" cy="147.5" r="4.55" fill="#ED7D31" stroke="#111" stroke-width="1.25"/><circle cx="311.3" cy="150.4" r="4.55" fill="#ED7D31" stroke="#111" stroke-width="1.25"/><circle cx="368.8" cy="149.3" r="4.55" fill="#ED7D31" stroke="#111" stroke-width="1.25"/><circle cx="421.5" cy="185.5" r="4.55" fill="#ED7D31" stroke="#111" stroke-width="1.25"/><circle cx="466.6" cy="171.5" r="4.55" fill="#ED7D31" stroke="#111" stroke-width="1.25"/><circle cx="483.2" cy="246.5" r="4.55" fill="#ED7D31" stroke="#111" stroke-width="1.25"/><circle cx="487.4" cy="108.3" r="4.55" fill="#ED7D31" stroke="#111" stroke-width="1.25"/><circle cx="499.6" cy="154.5" r="4.55" fill="#ED7D31" stroke="#111" stroke-width="1.25"/><circle cx="508.0" cy="205.5" r="4.55" fill="#ED7D31" stroke="#111" stroke-width="1.25"/><circle cx="512.1" cy="169.5" r="4.55" fill="#ED7D31" stroke="#111" stroke-width="1.25"/><circle cx="528.4" cy="167.0" r="4.55" fill="#ED7D31" stroke="#111" stroke-width="1.25"/><circle cx="552.9" cy="224.9" r="4.55" fill="#ED7D31" stroke="#111" stroke-width="1.25"/><circle cx="557.0" cy="124.6" r="4.55" fill="#ED7D31" stroke="#111" stroke-width="1.25"/><circle cx="565.1" cy="111.2" r="4.55" fill="#ED7D31" stroke="#111" stroke-width="1.25"/><circle cx="589.7" cy="171.9" r="4.55" fill="#ED7D31" stroke="#111" stroke-width="1.25"/><circle cx="598.1" cy="160.3" r="4.55" fill="#ED7D31" stroke="#111" stroke-width="1.25"/><circle cx="626.8" cy="202.5" r="4.55" fill="#ED7D31" stroke="#111" stroke-width="1.25"/><circle cx="679.7" cy="200.0" r="4.55" fill="#ED7D31" stroke="#111" stroke-width="1.25"/>
<polyline points="73.4,221.8 122.7,165.8 126.7,171.8 135.1,196.2 171.7,248.3 188.4,196.8 216.7,234.5 245.4,167.8 266.0,150.5 311.3,160.7 368.8,174.0 421.5,195.8 466.6,174.9 483.2,241.5 487.4,121.7 499.6,163.5 508.0,192.8 512.1,165.8 528.4,129.0 552.9,235.0 557.0,144.6 565.1,125.0 589.7,185.0 598.1,166.6 626.8,203.1 679.7,224.1" fill="none" stroke="#A5A5A5" stroke-width="2.2" stroke-linejoin="round"/><circle cx="73.4" cy="221.8" r="4.55" fill="#A5A5A5" stroke="#111" stroke-width="1.25"/><circle cx="122.7" cy="165.8" r="4.55" fill="#A5A5A5" stroke="#111" stroke-width="1.25"/><circle cx="126.7" cy="171.8" r="4.55" fill="#A5A5A5" stroke="#111" stroke-width="1.25"/><circle cx="135.1" cy="196.2" r="4.55" fill="#A5A5A5" stroke="#111" stroke-width="1.25"/><circle cx="171.7" cy="248.3" r="4.55" fill="#A5A5A5" stroke="#111" stroke-width="1.25"/><circle cx="188.4" cy="196.8" r="4.55" fill="#A5A5A5" stroke="#111" stroke-width="1.25"/><circle cx="216.7" cy="234.5" r="4.55" fill="#A5A5A5" stroke="#111" stroke-width="1.25"/><circle cx="245.4" cy="167.8" r="4.55" fill="#A5A5A5" stroke="#111" stroke-width="1.25"/><circle cx="266.0" cy="150.5" r="4.55" fill="#A5A5A5" stroke="#111" stroke-width="1.25"/><circle cx="311.3" cy="160.7" r="4.55" fill="#A5A5A5" stroke="#111" stroke-width="1.25"/><circle cx="368.8" cy="174.0" r="4.55" fill="#A5A5A5" stroke="#111" stroke-width="1.25"/><circle cx="421.5" cy="195.8" r="4.55" fill="#A5A5A5" stroke="#111" stroke-width="1.25"/><circle cx="466.6" cy="174.9" r="4.55" fill="#A5A5A5" stroke="#111" stroke-width="1.25"/><circle cx="483.2" cy="241.5" r="4.55" fill="#A5A5A5" stroke="#111" stroke-width="1.25"/><circle cx="487.4" cy="121.7" r="4.55" fill="#A5A5A5" stroke="#111" stroke-width="1.25"/><circle cx="499.6" cy="163.5" r="4.55" fill="#A5A5A5" stroke="#111" stroke-width="1.25"/><circle cx="508.0" cy="192.8" r="4.55" fill="#A5A5A5" stroke="#111" stroke-width="1.25"/><circle cx="512.1" cy="165.8" r="4.55" fill="#A5A5A5" stroke="#111" stroke-width="1.25"/><circle cx="528.4" cy="129.0" r="4.55" fill="#A5A5A5" stroke="#111" stroke-width="1.25"/><circle cx="552.9" cy="235.0" r="4.55" fill="#A5A5A5" stroke="#111" stroke-width="1.25"/><circle cx="557.0" cy="144.6" r="4.55" fill="#A5A5A5" stroke="#111" stroke-width="1.25"/><circle cx="565.1" cy="125.0" r="4.55" fill="#A5A5A5" stroke="#111" stroke-width="1.25"/><circle cx="589.7" cy="185.0" r="4.55" fill="#A5A5A5" stroke="#111" stroke-width="1.25"/><circle cx="598.1" cy="166.6" r="4.55" fill="#A5A5A5" stroke="#111" stroke-width="1.25"/><circle cx="626.8" cy="203.1" r="4.55" fill="#A5A5A5" stroke="#111" stroke-width="1.25"/><circle cx="679.7" cy="224.1" r="4.55" fill="#A5A5A5" stroke="#111" stroke-width="1.25"/>
<polyline points="76.4,547.0 125.6,537.8 129.7,469.1 137.9,541.4 174.8,515.0 191.2,537.0 219.9,528.2 248.6,524.6 269.1,534.6 314.2,536.2 371.6,548.7 424.9,548.7 470.0,548.0 486.4,546.5 490.5,538.5 502.8,547.0 511.0,549.0 515.1,548.2 527.4,548.0 556.1,549.0 560.2,549.5 568.4,548.5 593.0,549.0 601.2,549.0 629.9,548.5 683.2,548.0" fill="none" stroke="#5B9BD5" stroke-width="2.2" stroke-linejoin="round"/><circle cx="76.4" cy="547.0" r="4.55" fill="#5B9BD5" stroke="#111" stroke-width="1.25"/><circle cx="125.6" cy="537.8" r="4.55" fill="#5B9BD5" stroke="#111" stroke-width="1.25"/><circle cx="129.7" cy="469.1" r="4.55" fill="#5B9BD5" stroke="#111" stroke-width="1.25"/><circle cx="137.9" cy="541.4" r="4.55" fill="#5B9BD5" stroke="#111" stroke-width="1.25"/><circle cx="174.8" cy="515.0" r="4.55" fill="#5B9BD5" stroke="#111" stroke-width="1.25"/><circle cx="191.2" cy="537.0" r="4.55" fill="#5B9BD5" stroke="#111" stroke-width="1.25"/><circle cx="219.9" cy="528.2" r="4.55" fill="#5B9BD5" stroke="#111" stroke-width="1.25"/><circle cx="248.6" cy="524.6" r="4.55" fill="#5B9BD5" stroke="#111" stroke-width="1.25"/><circle cx="269.1" cy="534.6" r="4.55" fill="#5B9BD5" stroke="#111" stroke-width="1.25"/><circle cx="314.2" cy="536.2" r="4.55" fill="#5B9BD5" stroke="#111" stroke-width="1.25"/><circle cx="371.6" cy="548.7" r="4.55" fill="#5B9BD5" stroke="#111" stroke-width="1.25"/><circle cx="424.9" cy="548.7" r="4.55" fill="#5B9BD5" stroke="#111" stroke-width="1.25"/><circle cx="470.0" cy="548.0" r="4.55" fill="#5B9BD5" stroke="#111" stroke-width="1.25"/><circle cx="486.4" cy="546.5" r="4.55" fill="#5B9BD5" stroke="#111" stroke-width="1.25"/><circle cx="490.5" cy="538.5" r="4.55" fill="#5B9BD5" stroke="#111" stroke-width="1.25"/><circle cx="502.8" cy="547.0" r="4.55" fill="#5B9BD5" stroke="#111" stroke-width="1.25"/><circle cx="511.0" cy="549.0" r="4.55" fill="#5B9BD5" stroke="#111" stroke-width="1.25"/><circle cx="515.1" cy="548.2" r="4.55" fill="#5B9BD5" stroke="#111" stroke-width="1.25"/><circle cx="527.4" cy="548.0" r="4.55" fill="#5B9BD5" stroke="#111" stroke-width="1.25"/><circle cx="556.1" cy="549.0" r="4.55" fill="#5B9BD5" stroke="#111" stroke-width="1.25"/><circle cx="560.2" cy="549.5" r="4.55" fill="#5B9BD5" stroke="#111" stroke-width="1.25"/><circle cx="568.4" cy="548.5" r="4.55" fill="#5B9BD5" stroke="#111" stroke-width="1.25"/><circle cx="593.0" cy="549.0" r="4.55" fill="#5B9BD5" stroke="#111" stroke-width="1.25"/><circle cx="601.2" cy="549.0" r="4.55" fill="#5B9BD5" stroke="#111" stroke-width="1.25"/><circle cx="629.9" cy="548.5" r="4.55" fill="#5B9BD5" stroke="#111" stroke-width="1.25"/><circle cx="683.2" cy="548.0" r="4.55" fill="#5B9BD5" stroke="#111" stroke-width="1.25"/>
<polyline points="76.4,545.0 125.6,523.7 129.7,491.2 137.9,529.1 174.8,532.9 191.2,534.0 219.9,539.0 248.6,539.0 269.1,527.2 314.2,540.6 371.6,537.0 424.9,542.3 470.0,545.9 486.4,548.0 490.5,516.7 502.8,546.0 511.0,550.0 515.1,549.0 527.4,546.0 556.1,548.0 560.2,548.0 568.4,540.9 593.0,546.2 601.2,549.0 629.9,548.0 683.2,549.0" fill="none" stroke="#ED7D31" stroke-width="2.2" stroke-linejoin="round"/><circle cx="76.4" cy="545.0" r="4.55" fill="#ED7D31" stroke="#111" stroke-width="1.25"/><circle cx="125.6" cy="523.7" r="4.55" fill="#ED7D31" stroke="#111" stroke-width="1.25"/><circle cx="129.7" cy="491.2" r="4.55" fill="#ED7D31" stroke="#111" stroke-width="1.25"/><circle cx="137.9" cy="529.1" r="4.55" fill="#ED7D31" stroke="#111" stroke-width="1.25"/><circle cx="174.8" cy="532.9" r="4.55" fill="#ED7D31" stroke="#111" stroke-width="1.25"/><circle cx="191.2" cy="534.0" r="4.55" fill="#ED7D31" stroke="#111" stroke-width="1.25"/><circle cx="219.9" cy="539.0" r="4.55" fill="#ED7D31" stroke="#111" stroke-width="1.25"/><circle cx="248.6" cy="539.0" r="4.55" fill="#ED7D31" stroke="#111" stroke-width="1.25"/><circle cx="269.1" cy="527.2" r="4.55" fill="#ED7D31" stroke="#111" stroke-width="1.25"/><circle cx="314.2" cy="540.6" r="4.55" fill="#ED7D31" stroke="#111" stroke-width="1.25"/><circle cx="371.6" cy="537.0" r="4.55" fill="#ED7D31" stroke="#111" stroke-width="1.25"/><circle cx="424.9" cy="542.3" r="4.55" fill="#ED7D31" stroke="#111" stroke-width="1.25"/><circle cx="470.0" cy="545.9" r="4.55" fill="#ED7D31" stroke="#111" stroke-width="1.25"/><circle cx="486.4" cy="548.0" r="4.55" fill="#ED7D31" stroke="#111" stroke-width="1.25"/><circle cx="490.5" cy="516.7" r="4.55" fill="#ED7D31" stroke="#111" stroke-width="1.25"/><circle cx="502.8" cy="546.0" r="4.55" fill="#ED7D31" stroke="#111" stroke-width="1.25"/><circle cx="511.0" cy="550.0" r="4.55" fill="#ED7D31" stroke="#111" stroke-width="1.25"/><circle cx="515.1" cy="549.0" r="4.55" fill="#ED7D31" stroke="#111" stroke-width="1.25"/><circle cx="527.4" cy="546.0" r="4.55" fill="#ED7D31" stroke="#111" stroke-width="1.25"/><circle cx="556.1" cy="548.0" r="4.55" fill="#ED7D31" stroke="#111" stroke-width="1.25"/><circle cx="560.2" cy="548.0" r="4.55" fill="#ED7D31" stroke="#111" stroke-width="1.25"/><circle cx="568.4" cy="540.9" r="4.55" fill="#ED7D31" stroke="#111" stroke-width="1.25"/><circle cx="593.0" cy="546.2" r="4.55" fill="#ED7D31" stroke="#111" stroke-width="1.25"/><circle cx="601.2" cy="549.0" r="4.55" fill="#ED7D31" stroke="#111" stroke-width="1.25"/><circle cx="629.9" cy="548.0" r="4.55" fill="#ED7D31" stroke="#111" stroke-width="1.25"/><circle cx="683.2" cy="549.0" r="4.55" fill="#ED7D31" stroke="#111" stroke-width="1.25"/>
<polyline points="76.4,544.7 125.6,526.4 129.7,530.0 137.9,531.0 174.8,524.0 191.2,540.5 219.9,539.5 248.6,539.5 269.1,524.2 314.2,542.0 371.6,538.9 424.9,545.0 470.0,549.0 486.4,539.0 490.5,495.5 502.8,537.3 511.0,539.4 515.1,549.0 527.4,546.0 556.1,549.0 560.2,552.2 568.4,548.0 593.0,551.0 601.2,549.0 629.9,545.0 683.2,548.0" fill="none" stroke="#A5A5A5" stroke-width="2.2" stroke-linejoin="round"/><circle cx="76.4" cy="544.7" r="4.55" fill="#A5A5A5" stroke="#111" stroke-width="1.25"/><circle cx="125.6" cy="526.4" r="4.55" fill="#A5A5A5" stroke="#111" stroke-width="1.25"/><circle cx="129.7" cy="530.0" r="4.55" fill="#A5A5A5" stroke="#111" stroke-width="1.25"/><circle cx="137.9" cy="531.0" r="4.55" fill="#A5A5A5" stroke="#111" stroke-width="1.25"/><circle cx="174.8" cy="524.0" r="4.55" fill="#A5A5A5" stroke="#111" stroke-width="1.25"/><circle cx="191.2" cy="540.5" r="4.55" fill="#A5A5A5" stroke="#111" stroke-width="1.25"/><circle cx="219.9" cy="539.5" r="4.55" fill="#A5A5A5" stroke="#111" stroke-width="1.25"/><circle cx="248.6" cy="539.5" r="4.55" fill="#A5A5A5" stroke="#111" stroke-width="1.25"/><circle cx="269.1" cy="524.2" r="4.55" fill="#A5A5A5" stroke="#111" stroke-width="1.25"/><circle cx="314.2" cy="542.0" r="4.55" fill="#A5A5A5" stroke="#111" stroke-width="1.25"/><circle cx="371.6" cy="538.9" r="4.55" fill="#A5A5A5" stroke="#111" stroke-width="1.25"/><circle cx="424.9" cy="545.0" r="4.55" fill="#A5A5A5" stroke="#111" stroke-width="1.25"/><circle cx="470.0" cy="549.0" r="4.55" fill="#A5A5A5" stroke="#111" stroke-width="1.25"/><circle cx="486.4" cy="539.0" r="4.55" fill="#A5A5A5" stroke="#111" stroke-width="1.25"/><circle cx="490.5" cy="495.5" r="4.55" fill="#A5A5A5" stroke="#111" stroke-width="1.25"/><circle cx="502.8" cy="537.3" r="4.55" fill="#A5A5A5" stroke="#111" stroke-width="1.25"/><circle cx="511.0" cy="539.4" r="4.55" fill="#A5A5A5" stroke="#111" stroke-width="1.25"/><circle cx="515.1" cy="549.0" r="4.55" fill="#A5A5A5" stroke="#111" stroke-width="1.25"/><circle cx="527.4" cy="546.0" r="4.55" fill="#A5A5A5" stroke="#111" stroke-width="1.25"/><circle cx="556.1" cy="549.0" r="4.55" fill="#A5A5A5" stroke="#111" stroke-width="1.25"/><circle cx="560.2" cy="552.2" r="4.55" fill="#A5A5A5" stroke="#111" stroke-width="1.25"/><circle cx="568.4" cy="548.0" r="4.55" fill="#A5A5A5" stroke="#111" stroke-width="1.25"/><circle cx="593.0" cy="551.0" r="4.55" fill="#A5A5A5" stroke="#111" stroke-width="1.25"/><circle cx="601.2" cy="549.0" r="4.55" fill="#A5A5A5" stroke="#111" stroke-width="1.25"/><circle cx="629.9" cy="545.0" r="4.55" fill="#A5A5A5" stroke="#111" stroke-width="1.25"/><circle cx="683.2" cy="548.0" r="4.55" fill="#A5A5A5" stroke="#111" stroke-width="1.25"/>
<polyline points="76.4,548.4 125.6,529.1 129.7,531.1 137.9,534.8 174.8,522.2 191.2,540.9 219.9,539.2 248.6,538.8 269.1,538.6 314.2,544.3 371.6,531.6 424.9,551.6 470.0,548.8 486.4,551.6 490.5,543.6 502.8,545.3 511.0,547.6 515.1,551.6 527.4,547.0 556.1,550.3 560.2,550.3 568.4,548.1 593.0,551.7 601.2,550.3 629.9,550.5 683.2,548.6" fill="none" stroke="#FFC000" stroke-width="2.2" stroke-linejoin="round"/><circle cx="76.4" cy="548.4" r="4.55" fill="#FFC000" stroke="#111" stroke-width="1.25"/><circle cx="125.6" cy="529.1" r="4.55" fill="#FFC000" stroke="#111" stroke-width="1.25"/><circle cx="129.7" cy="531.1" r="4.55" fill="#FFC000" stroke="#111" stroke-width="1.25"/><circle cx="137.9" cy="534.8" r="4.55" fill="#FFC000" stroke="#111" stroke-width="1.25"/><circle cx="174.8" cy="522.2" r="4.55" fill="#FFC000" stroke="#111" stroke-width="1.25"/><circle cx="191.2" cy="540.9" r="4.55" fill="#FFC000" stroke="#111" stroke-width="1.25"/><circle cx="219.9" cy="539.2" r="4.55" fill="#FFC000" stroke="#111" stroke-width="1.25"/><circle cx="248.6" cy="538.8" r="4.55" fill="#FFC000" stroke="#111" stroke-width="1.25"/><circle cx="269.1" cy="538.6" r="4.55" fill="#FFC000" stroke="#111" stroke-width="1.25"/><circle cx="314.2" cy="544.3" r="4.55" fill="#FFC000" stroke="#111" stroke-width="1.25"/><circle cx="371.6" cy="531.6" r="4.55" fill="#FFC000" stroke="#111" stroke-width="1.25"/><circle cx="424.9" cy="551.6" r="4.55" fill="#FFC000" stroke="#111" stroke-width="1.25"/><circle cx="470.0" cy="548.8" r="4.55" fill="#FFC000" stroke="#111" stroke-width="1.25"/><circle cx="486.4" cy="551.6" r="4.55" fill="#FFC000" stroke="#111" stroke-width="1.25"/><circle cx="490.5" cy="543.6" r="4.55" fill="#FFC000" stroke="#111" stroke-width="1.25"/><circle cx="502.8" cy="545.3" r="4.55" fill="#FFC000" stroke="#111" stroke-width="1.25"/><circle cx="511.0" cy="547.6" r="4.55" fill="#FFC000" stroke="#111" stroke-width="1.25"/><circle cx="515.1" cy="551.6" r="4.55" fill="#FFC000" stroke="#111" stroke-width="1.25"/><circle cx="527.4" cy="547.0" r="4.55" fill="#FFC000" stroke="#111" stroke-width="1.25"/><circle cx="556.1" cy="550.3" r="4.55" fill="#FFC000" stroke="#111" stroke-width="1.25"/><circle cx="560.2" cy="550.3" r="4.55" fill="#FFC000" stroke="#111" stroke-width="1.25"/><circle cx="568.4" cy="548.1" r="4.55" fill="#FFC000" stroke="#111" stroke-width="1.25"/><circle cx="593.0" cy="551.7" r="4.55" fill="#FFC000" stroke="#111" stroke-width="1.25"/><circle cx="601.2" cy="550.3" r="4.55" fill="#FFC000" stroke="#111" stroke-width="1.25"/><circle cx="629.9" cy="550.5" r="4.55" fill="#FFC000" stroke="#111" stroke-width="1.25"/><circle cx="683.2" cy="548.6" r="4.55" fill="#FFC000" stroke="#111" stroke-width="1.25"/>
<polyline points="75.0,778.6 124.6,772.0 128.6,771.2 137.2,758.4 173.9,629.4 190.7,677.6 219.3,667.7 248.1,708.1 268.8,717.0 314.3,662.8 372.2,753.3 425.6,714.9 470.8,733.5 486.9,752.5 491.1,745.8 503.8,756.0 512.0,707.0 516.1,688.3 528.6,728.7 557.2,692.2 561.1,731.1 569.9,724.2 594.5,715.1 602.7,709.1 631.4,733.5 685.1,732.9" fill="none" stroke="#5B9BD5" stroke-width="2.2" stroke-linejoin="round"/><circle cx="75.0" cy="778.6" r="4.55" fill="#5B9BD5" stroke="#111" stroke-width="1.25"/><circle cx="124.6" cy="772.0" r="4.55" fill="#5B9BD5" stroke="#111" stroke-width="1.25"/><circle cx="128.6" cy="771.2" r="4.55" fill="#5B9BD5" stroke="#111" stroke-width="1.25"/><circle cx="137.2" cy="758.4" r="4.55" fill="#5B9BD5" stroke="#111" stroke-width="1.25"/><circle cx="173.9" cy="629.4" r="4.55" fill="#5B9BD5" stroke="#111" stroke-width="1.25"/><circle cx="190.7" cy="677.6" r="4.55" fill="#5B9BD5" stroke="#111" stroke-width="1.25"/><circle cx="219.3" cy="667.7" r="4.55" fill="#5B9BD5" stroke="#111" stroke-width="1.25"/><circle cx="248.1" cy="708.1" r="4.55" fill="#5B9BD5" stroke="#111" stroke-width="1.25"/><circle cx="268.8" cy="717.0" r="4.55" fill="#5B9BD5" stroke="#111" stroke-width="1.25"/><circle cx="314.3" cy="662.8" r="4.55" fill="#5B9BD5" stroke="#111" stroke-width="1.25"/><circle cx="372.2" cy="753.3" r="4.55" fill="#5B9BD5" stroke="#111" stroke-width="1.25"/><circle cx="425.6" cy="714.9" r="4.55" fill="#5B9BD5" stroke="#111" stroke-width="1.25"/><circle cx="470.8" cy="733.5" r="4.55" fill="#5B9BD5" stroke="#111" stroke-width="1.25"/><circle cx="486.9" cy="752.5" r="4.55" fill="#5B9BD5" stroke="#111" stroke-width="1.25"/><circle cx="491.1" cy="745.8" r="4.55" fill="#5B9BD5" stroke="#111" stroke-width="1.25"/><circle cx="503.8" cy="756.0" r="4.55" fill="#5B9BD5" stroke="#111" stroke-width="1.25"/><circle cx="512.0" cy="707.0" r="4.55" fill="#5B9BD5" stroke="#111" stroke-width="1.25"/><circle cx="516.1" cy="688.3" r="4.55" fill="#5B9BD5" stroke="#111" stroke-width="1.25"/><circle cx="528.6" cy="728.7" r="4.55" fill="#5B9BD5" stroke="#111" stroke-width="1.25"/><circle cx="557.2" cy="692.2" r="4.55" fill="#5B9BD5" stroke="#111" stroke-width="1.25"/><circle cx="561.1" cy="731.1" r="4.55" fill="#5B9BD5" stroke="#111" stroke-width="1.25"/><circle cx="569.9" cy="724.2" r="4.55" fill="#5B9BD5" stroke="#111" stroke-width="1.25"/><circle cx="594.5" cy="715.1" r="4.55" fill="#5B9BD5" stroke="#111" stroke-width="1.25"/><circle cx="602.7" cy="709.1" r="4.55" fill="#5B9BD5" stroke="#111" stroke-width="1.25"/><circle cx="631.4" cy="733.5" r="4.55" fill="#5B9BD5" stroke="#111" stroke-width="1.25"/><circle cx="685.1" cy="732.9" r="4.55" fill="#5B9BD5" stroke="#111" stroke-width="1.25"/>
<polyline points="75.0,768.2 124.6,768.0 128.6,753.8 137.2,742.3 173.9,711.9 190.7,738.8 219.3,729.2 248.1,701.7 268.8,725.7 314.3,694.4 372.2,680.6 425.6,703.8 470.8,705.5 486.9,763.0 491.1,768.0 503.8,731.9 512.0,695.3 516.1,703.1 528.6,695.8 557.2,711.6 561.1,733.5 569.9,735.2 594.5,690.7 602.7,695.0 631.4,691.5 685.1,740.0" fill="none" stroke="#ED7D31" stroke-width="2.2" stroke-linejoin="round"/><circle cx="75.0" cy="768.2" r="4.55" fill="#ED7D31" stroke="#111" stroke-width="1.25"/><circle cx="124.6" cy="768.0" r="4.55" fill="#ED7D31" stroke="#111" stroke-width="1.25"/><circle cx="128.6" cy="753.8" r="4.55" fill="#ED7D31" stroke="#111" stroke-width="1.25"/><circle cx="137.2" cy="742.3" r="4.55" fill="#ED7D31" stroke="#111" stroke-width="1.25"/><circle cx="173.9" cy="711.9" r="4.55" fill="#ED7D31" stroke="#111" stroke-width="1.25"/><circle cx="190.7" cy="738.8" r="4.55" fill="#ED7D31" stroke="#111" stroke-width="1.25"/><circle cx="219.3" cy="729.2" r="4.55" fill="#ED7D31" stroke="#111" stroke-width="1.25"/><circle cx="248.1" cy="701.7" r="4.55" fill="#ED7D31" stroke="#111" stroke-width="1.25"/><circle cx="268.8" cy="725.7" r="4.55" fill="#ED7D31" stroke="#111" stroke-width="1.25"/><circle cx="314.3" cy="694.4" r="4.55" fill="#ED7D31" stroke="#111" stroke-width="1.25"/><circle cx="372.2" cy="680.6" r="4.55" fill="#ED7D31" stroke="#111" stroke-width="1.25"/><circle cx="425.6" cy="703.8" r="4.55" fill="#ED7D31" stroke="#111" stroke-width="1.25"/><circle cx="470.8" cy="705.5" r="4.55" fill="#ED7D31" stroke="#111" stroke-width="1.25"/><circle cx="486.9" cy="763.0" r="4.55" fill="#ED7D31" stroke="#111" stroke-width="1.25"/><circle cx="491.1" cy="768.0" r="4.55" fill="#ED7D31" stroke="#111" stroke-width="1.25"/><circle cx="503.8" cy="731.9" r="4.55" fill="#ED7D31" stroke="#111" stroke-width="1.25"/><circle cx="512.0" cy="695.3" r="4.55" fill="#ED7D31" stroke="#111" stroke-width="1.25"/><circle cx="516.1" cy="703.1" r="4.55" fill="#ED7D31" stroke="#111" stroke-width="1.25"/><circle cx="528.6" cy="695.8" r="4.55" fill="#ED7D31" stroke="#111" stroke-width="1.25"/><circle cx="557.2" cy="711.6" r="4.55" fill="#ED7D31" stroke="#111" stroke-width="1.25"/><circle cx="561.1" cy="733.5" r="4.55" fill="#ED7D31" stroke="#111" stroke-width="1.25"/><circle cx="569.9" cy="735.2" r="4.55" fill="#ED7D31" stroke="#111" stroke-width="1.25"/><circle cx="594.5" cy="690.7" r="4.55" fill="#ED7D31" stroke="#111" stroke-width="1.25"/><circle cx="602.7" cy="695.0" r="4.55" fill="#ED7D31" stroke="#111" stroke-width="1.25"/><circle cx="631.4" cy="691.5" r="4.55" fill="#ED7D31" stroke="#111" stroke-width="1.25"/><circle cx="685.1" cy="740.0" r="4.55" fill="#ED7D31" stroke="#111" stroke-width="1.25"/>
<polyline points="75.0,756.4 124.6,767.5 128.6,758.0 137.2,754.3 173.9,728.0 190.7,759.3 219.3,730.7 248.1,713.5 268.8,723.6 314.3,697.9 372.2,729.9 425.6,754.6 470.8,729.9 486.9,770.0 491.1,769.6 503.8,742.0 512.0,726.6 516.1,676.6 528.6,708.9 557.2,700.7 561.1,761.2 569.9,759.8 594.5,725.4 602.7,716.0 631.4,720.6 685.1,723.1" fill="none" stroke="#A5A5A5" stroke-width="2.2" stroke-linejoin="round"/><circle cx="75.0" cy="756.4" r="4.55" fill="#A5A5A5" stroke="#111" stroke-width="1.25"/><circle cx="124.6" cy="767.5" r="4.55" fill="#A5A5A5" stroke="#111" stroke-width="1.25"/><circle cx="128.6" cy="758.0" r="4.55" fill="#A5A5A5" stroke="#111" stroke-width="1.25"/><circle cx="137.2" cy="754.3" r="4.55" fill="#A5A5A5" stroke="#111" stroke-width="1.25"/><circle cx="173.9" cy="728.0" r="4.55" fill="#A5A5A5" stroke="#111" stroke-width="1.25"/><circle cx="190.7" cy="759.3" r="4.55" fill="#A5A5A5" stroke="#111" stroke-width="1.25"/><circle cx="219.3" cy="730.7" r="4.55" fill="#A5A5A5" stroke="#111" stroke-width="1.25"/><circle cx="248.1" cy="713.5" r="4.55" fill="#A5A5A5" stroke="#111" stroke-width="1.25"/><circle cx="268.8" cy="723.6" r="4.55" fill="#A5A5A5" stroke="#111" stroke-width="1.25"/><circle cx="314.3" cy="697.9" r="4.55" fill="#A5A5A5" stroke="#111" stroke-width="1.25"/><circle cx="372.2" cy="729.9" r="4.55" fill="#A5A5A5" stroke="#111" stroke-width="1.25"/><circle cx="425.6" cy="754.6" r="4.55" fill="#A5A5A5" stroke="#111" stroke-width="1.25"/><circle cx="470.8" cy="729.9" r="4.55" fill="#A5A5A5" stroke="#111" stroke-width="1.25"/><circle cx="486.9" cy="770.0" r="4.55" fill="#A5A5A5" stroke="#111" stroke-width="1.25"/><circle cx="491.1" cy="769.6" r="4.55" fill="#A5A5A5" stroke="#111" stroke-width="1.25"/><circle cx="503.8" cy="742.0" r="4.55" fill="#A5A5A5" stroke="#111" stroke-width="1.25"/><circle cx="512.0" cy="726.6" r="4.55" fill="#A5A5A5" stroke="#111" stroke-width="1.25"/><circle cx="516.1" cy="676.6" r="4.55" fill="#A5A5A5" stroke="#111" stroke-width="1.25"/><circle cx="528.6" cy="708.9" r="4.55" fill="#A5A5A5" stroke="#111" stroke-width="1.25"/><circle cx="557.2" cy="700.7" r="4.55" fill="#A5A5A5" stroke="#111" stroke-width="1.25"/><circle cx="561.1" cy="761.2" r="4.55" fill="#A5A5A5" stroke="#111" stroke-width="1.25"/><circle cx="569.9" cy="759.8" r="4.55" fill="#A5A5A5" stroke="#111" stroke-width="1.25"/><circle cx="594.5" cy="725.4" r="4.55" fill="#A5A5A5" stroke="#111" stroke-width="1.25"/><circle cx="602.7" cy="716.0" r="4.55" fill="#A5A5A5" stroke="#111" stroke-width="1.25"/><circle cx="631.4" cy="720.6" r="4.55" fill="#A5A5A5" stroke="#111" stroke-width="1.25"/><circle cx="685.1" cy="723.1" r="4.55" fill="#A5A5A5" stroke="#111" stroke-width="1.25"/>
<polyline points="75.0,767.8 124.6,758.4 128.6,762.8 137.2,769.4 173.9,726.9 190.7,757.2 219.3,764.0 248.1,722.7 268.8,716.7 314.3,707.7 372.2,741.7 425.6,773.4 470.8,745.5 486.9,761.7 491.1,764.0 503.8,760.7 512.0,757.6 516.1,753.8 528.6,757.6 557.2,770.1 561.1,777.9 569.9,775.5 594.5,777.5 602.7,786.1 631.4,785.1 685.1,790.6" fill="none" stroke="#FFC000" stroke-width="2.2" stroke-linejoin="round"/><circle cx="75.0" cy="767.8" r="4.55" fill="#FFC000" stroke="#111" stroke-width="1.25"/><circle cx="124.6" cy="758.4" r="4.55" fill="#FFC000" stroke="#111" stroke-width="1.25"/><circle cx="128.6" cy="762.8" r="4.55" fill="#FFC000" stroke="#111" stroke-width="1.25"/><circle cx="137.2" cy="769.4" r="4.55" fill="#FFC000" stroke="#111" stroke-width="1.25"/><circle cx="173.9" cy="726.9" r="4.55" fill="#FFC000" stroke="#111" stroke-width="1.25"/><circle cx="190.7" cy="757.2" r="4.55" fill="#FFC000" stroke="#111" stroke-width="1.25"/><circle cx="219.3" cy="764.0" r="4.55" fill="#FFC000" stroke="#111" stroke-width="1.25"/><circle cx="248.1" cy="722.7" r="4.55" fill="#FFC000" stroke="#111" stroke-width="1.25"/><circle cx="268.8" cy="716.7" r="4.55" fill="#FFC000" stroke="#111" stroke-width="1.25"/><circle cx="314.3" cy="707.7" r="4.55" fill="#FFC000" stroke="#111" stroke-width="1.25"/><circle cx="372.2" cy="741.7" r="4.55" fill="#FFC000" stroke="#111" stroke-width="1.25"/><circle cx="425.6" cy="773.4" r="4.55" fill="#FFC000" stroke="#111" stroke-width="1.25"/><circle cx="470.8" cy="745.5" r="4.55" fill="#FFC000" stroke="#111" stroke-width="1.25"/><circle cx="486.9" cy="761.7" r="4.55" fill="#FFC000" stroke="#111" stroke-width="1.25"/><circle cx="491.1" cy="764.0" r="4.55" fill="#FFC000" stroke="#111" stroke-width="1.25"/><circle cx="503.8" cy="760.7" r="4.55" fill="#FFC000" stroke="#111" stroke-width="1.25"/><circle cx="512.0" cy="757.6" r="4.55" fill="#FFC000" stroke="#111" stroke-width="1.25"/><circle cx="516.1" cy="753.8" r="4.55" fill="#FFC000" stroke="#111" stroke-width="1.25"/><circle cx="528.6" cy="757.6" r="4.55" fill="#FFC000" stroke="#111" stroke-width="1.25"/><circle cx="557.2" cy="770.1" r="4.55" fill="#FFC000" stroke="#111" stroke-width="1.25"/><circle cx="561.1" cy="777.9" r="4.55" fill="#FFC000" stroke="#111" stroke-width="1.25"/><circle cx="569.9" cy="775.5" r="4.55" fill="#FFC000" stroke="#111" stroke-width="1.25"/><circle cx="594.5" cy="777.5" r="4.55" fill="#FFC000" stroke="#111" stroke-width="1.25"/><circle cx="602.7" cy="786.1" r="4.55" fill="#FFC000" stroke="#111" stroke-width="1.25"/><circle cx="631.4" cy="785.1" r="4.55" fill="#FFC000" stroke="#111" stroke-width="1.25"/><circle cx="685.1" cy="790.6" r="4.55" fill="#FFC000" stroke="#111" stroke-width="1.25"/>
<g font-size="18.7">
<text transform="translate(70.70,850.8) rotate(-45)" text-anchor="end">15/03/2022</text>
<text transform="translate(99.56,850.8) rotate(-45)" text-anchor="end">22/03/2022</text>
<text transform="translate(128.42,850.8) rotate(-45)" text-anchor="end">29/03/2022</text>
<text transform="translate(157.28,850.8) rotate(-45)" text-anchor="end">05/04/2022</text>
<text transform="translate(186.14,850.8) rotate(-45)" text-anchor="end">12/04/2022</text>
<text transform="translate(215.00,850.8) rotate(-45)" text-anchor="end">19/04/2022</text>
<text transform="translate(243.86,850.8) rotate(-45)" text-anchor="end">26/04/2022</text>
<text transform="translate(272.72,850.8) rotate(-45)" text-anchor="end">03/05/2022</text>
<text transform="translate(301.58,850.8) rotate(-45)" text-anchor="end">10/05/2022</text>
<text transform="translate(330.44,850.8) rotate(-45)" text-anchor="end">17/05/2022</text>
<text transform="translate(359.30,850.8) rotate(-45)" text-anchor="end">24/05/2022</text>
<text transform="translate(388.16,850.8) rotate(-45)" text-anchor="end">31/05/2022</text>
<text transform="translate(417.02,850.8) rotate(-45)" text-anchor="end">07/06/2022</text>
<text transform="translate(445.88,850.8) rotate(-45)" text-anchor="end">14/06/2022</text>
<text transform="translate(474.74,850.8) rotate(-45)" text-anchor="end">21/06/2022</text>
<text transform="translate(503.60,850.8) rotate(-45)" text-anchor="end">28/06/2022</text>
<text transform="translate(532.46,850.8) rotate(-45)" text-anchor="end">05/07/2022</text>
<text transform="translate(561.32,850.8) rotate(-45)" text-anchor="end">12/07/2022</text>
<text transform="translate(590.18,850.8) rotate(-45)" text-anchor="end">19/07/2022</text>
<text transform="translate(619.04,850.8) rotate(-45)" text-anchor="end">26/07/2022</text>
<text transform="translate(647.90,850.8) rotate(-45)" text-anchor="end">02/08/2022</text>
<text transform="translate(676.76,850.8) rotate(-45)" text-anchor="end">09/08/2022</text>
</g>
<line x1="212.3" y1="937.2" x2="239.3" y2="937.2" stroke="#5B9BD5" stroke-width="2.2"/><circle cx="225.8" cy="937.2" r="4.5" fill="#5B9BD5" stroke="#111" stroke-width="1.2"/><text x="242.1" y="944" font-size="21.7">A</text>
<line x1="270" y1="937.2" x2="297.6" y2="937.2" stroke="#ED7D31" stroke-width="2.2"/><circle cx="283.8" cy="937.2" r="4.5" fill="#ED7D31" stroke="#111" stroke-width="1.2"/><text x="300.5" y="944" font-size="21.7">A+P</text>
<line x1="352.4" y1="937.2" x2="378.7" y2="937.2" stroke="#A5A5A5" stroke-width="2.2"/><circle cx="365.54999999999995" cy="937.2" r="4.5" fill="#A5A5A5" stroke="#111" stroke-width="1.2"/><text x="381.3" y="944" font-size="21.7">P</text>
<line x1="407" y1="937.2" x2="433.3" y2="937.2" stroke="#FFC000" stroke-width="2.2"/><circle cx="420.15" cy="937.2" r="4.5" fill="#FFC000" stroke="#111" stroke-width="1.2"/><text x="436.7" y="944" font-size="21.7">Control</text>
</svg></body></html>
